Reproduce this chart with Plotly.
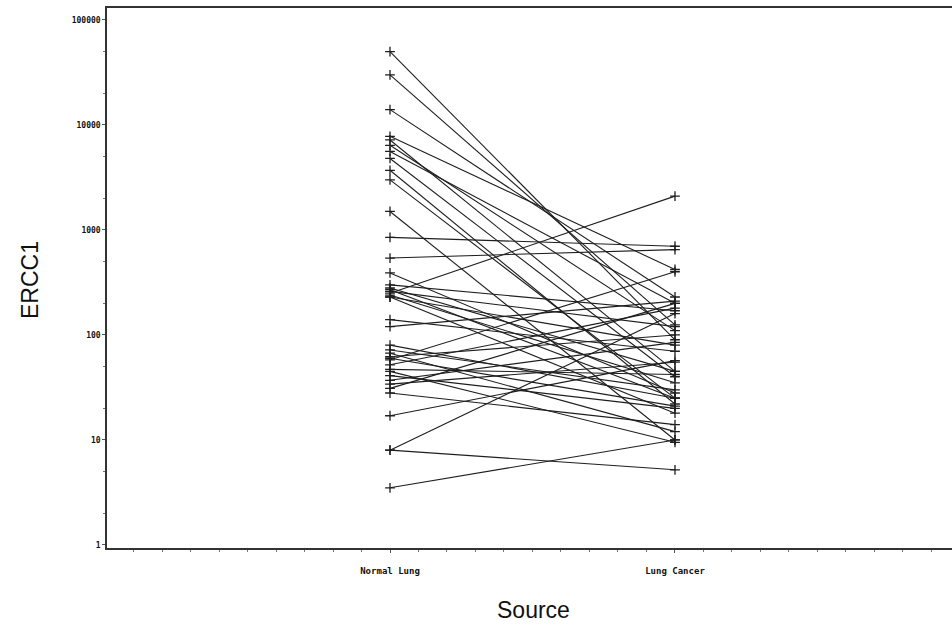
import plotly.graph_objects as go

categories = ["Normal Lung", "Lung Cancer"]
cat_pos = [1, 2]

normal_lung = [50000, 30000, 14000, 7800, 7200, 6400, 5600, 4800, 3700, 3000,
               1500, 850, 540, 390, 300, 280, 260, 240, 230, 250,
               140, 120, 80, 72, 67, 62, 58, 52, 47, 41,
               37, 34, 31, 28, 17, 8, 8, 3.5, 60, 45,
               270, 230]
lung_cancer = [90, 125, 230, 420, 45, 110, 200, 40, 22, 25,
               10, 700, 650, 28, 170, 45, 120, 35, 18, 2100,
               70, 210, 25, 30, 12, 100, 400, 180, 42, 20,
               85, 55, 200, 14, 57, 160, 5.2, 10, 21, 9.5,
               25, 80]

ytick_vals = [1, 10, 100, 1000, 10000, 100000]
ytick_text = ["1", "10", "100", "1000", "10000", "100000"]

fig = go.Figure()
for a, b in zip(normal_lung, lung_cancer):
    fig.add_trace(go.Scatter(
        x=cat_pos, y=[a, b], mode="lines+markers",
        line=dict(color="#1e1e1e", width=1.1),
        marker=dict(symbol="cross-thin", size=7, line=dict(color="#1e1e1e", width=1.3)),
        showlegend=False, hoverinfo="skip"))

W, H = 952, 633
ml, mr, mt, mb = 107, 0, 8, 85
pw = W - ml - mr
ph = H - mt - mb

fig.update_layout(
    width=W, height=H,
    margin=dict(l=ml, r=mr, t=mt, b=mb),
    paper_bgcolor="white", plot_bgcolor="white",
    xaxis=dict(range=[0.007, 2.972], tickvals=cat_pos, ticktext=categories,
               showgrid=False, zeroline=False, showline=True, linecolor="#333",
               linewidth=1.5, mirror=True, ticks="outside", ticklen=3, tickcolor="#555",
               minor=dict(dtick=0.1, ticks="outside", ticklen=2, tickcolor="#777"),
               tickfont=dict(family="DejaVu Sans Mono", size=9, color="#111", weight="bold"),
               ticklabelstandoff=10),
    yaxis=dict(type="log", range=[-0.029, 5.114], tickvals=ytick_vals, ticktext=ytick_text,
               showgrid=False, zeroline=False, showline=True, linecolor="#333",
               linewidth=1.5, mirror=False, ticks="outside", ticklen=3, tickcolor="#555",
               minor=dict(ticks="outside", ticklen=2, tickcolor="#777"),
               tickfont=dict(family="DejaVu Sans Mono", size=8, color="#111", weight="bold")),
    annotations=[
        dict(text="ERCC1", xref="paper", yref="paper",
             x=(30 - ml) / pw, y=(H - mb - 280) / ph, textangle=-90,
             showarrow=False, font=dict(family="Liberation Sans", size=23, color="#111"),
             xanchor="center", yanchor="middle"),
        dict(text="Source", xref="paper", yref="paper",
             x=(533 - ml) / pw, y=-(610 - (H - mb)) / ph,
             showarrow=False, font=dict(family="Liberation Sans", size=23, color="#111"),
             xanchor="center", yanchor="middle"),
    ],
)

fig.write_html("out.html")
